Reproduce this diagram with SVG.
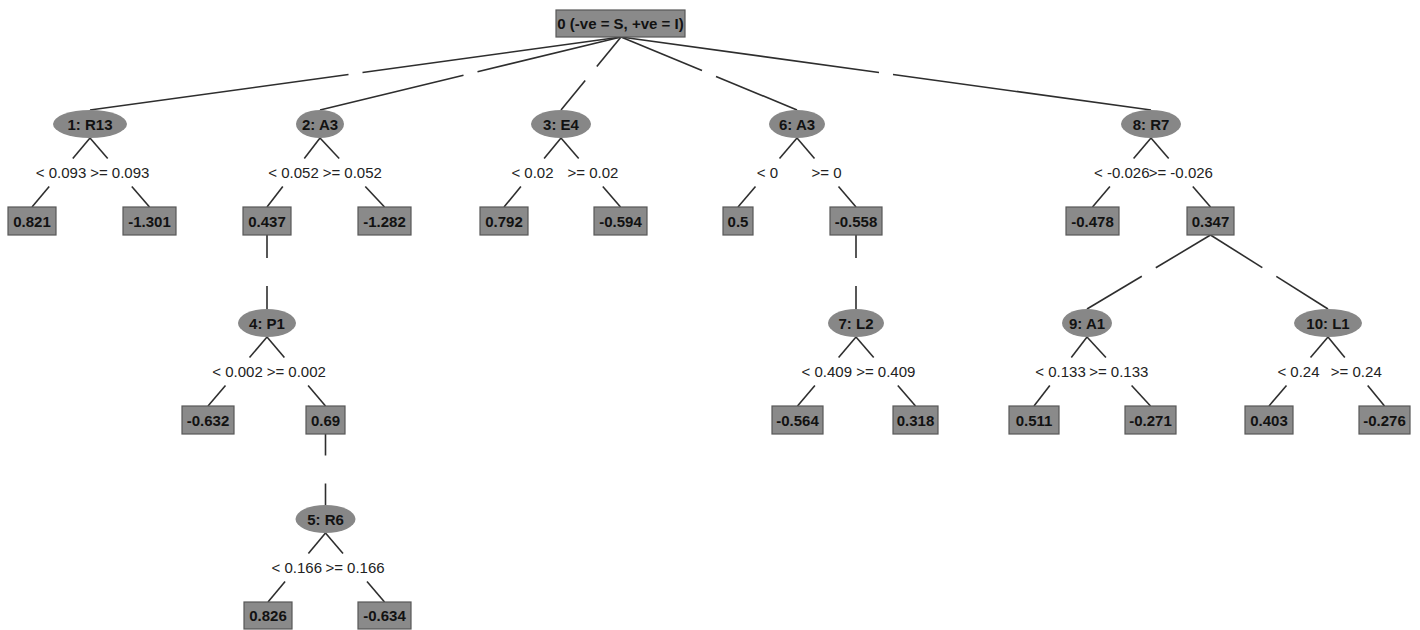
<svg xmlns="http://www.w3.org/2000/svg" width="1420" height="630" viewBox="0 0 1420 630">
<style>
.bg{fill:#ffffff}
.box{fill:#8a8a8a;stroke:#585858;stroke-width:1.2}
.ell{fill:#878787;stroke:none}
.nt{font-family:"Liberation Sans",Arial,sans-serif;font-size:15px;font-weight:bold;fill:#121212;text-anchor:middle}
.lt{font-family:"Liberation Sans",Arial,sans-serif;font-size:15px;fill:#222222;text-anchor:middle}
.e{stroke:#2e2e2e;stroke-width:1.6;fill:none}
</style>
<rect class="bg" x="0" y="0" width="1420" height="630"/>
<g id="connectors">
<!-- root edges -->
<polyline class="e" points="621,37 362.5,72.5"/><polyline class="e" points="348.5,74.5 90,110"/>
<polyline class="e" points="621,37 477.5,71.8"/><polyline class="e" points="463.5,75.2 320,110"/>
<polyline class="e" points="621,37 596.8,66.5"/><polyline class="e" points="585.2,80.5 561,110"/>
<polyline class="e" points="621,37 702,70.6"/><polyline class="e" points="716,76.4 797,110"/>
<polyline class="e" points="621,37 879,72.5"/><polyline class="e" points="893,74.5 1151,110"/>
<!-- level 1 splits -->
<polyline class="e" points="90,138 72.8,158.5"/><polyline class="e" points="49.2,186.5 32,207"/>
<polyline class="e" points="90,138 107.7,158.5"/><polyline class="e" points="131.8,186.5 149.5,207"/>
<polyline class="e" points="320,138 304.3,158.5"/><polyline class="e" points="282.8,186.5 267,207"/>
<polyline class="e" points="320,138 339.2,158.5"/><polyline class="e" points="365.3,186.5 384.5,207"/>
<polyline class="e" points="561,138 544.1,158.5"/><polyline class="e" points="520.9,186.5 504,207"/>
<polyline class="e" points="561,138 578.7,158.5"/><polyline class="e" points="602.8,186.5 620.5,207"/>
<polyline class="e" points="797,138 779.5,158.5"/><polyline class="e" points="755.5,186.5 738,207"/>
<polyline class="e" points="797,138 814.5,158.5"/><polyline class="e" points="838.5,186.5 856,207"/>
<polyline class="e" points="1151,138 1133.6,158.5"/><polyline class="e" points="1109.9,186.5 1092.5,207"/>
<polyline class="e" points="1151,138 1168.7,158.5"/><polyline class="e" points="1192.8,186.5 1210.5,207"/>
<!-- level 2 to level 3 -->
<polyline class="e" points="267,235 267,258"/><polyline class="e" points="267,286 267,309"/>
<polyline class="e" points="856,235 856,258"/><polyline class="e" points="856,286 856,309"/>
<polyline class="e" points="1210.5,235 1155.8,267.8"/><polyline class="e" points="1141.8,276.2 1087,309"/>
<polyline class="e" points="1210.5,235 1262.3,267.6"/><polyline class="e" points="1276.3,276.4 1328,309"/>
<!-- level 3 splits -->
<polyline class="e" points="267,337 249.5,357.5"/><polyline class="e" points="225.5,385.5 208,406"/>
<polyline class="e" points="267,337 284.4,357.5"/><polyline class="e" points="308.1,385.5 325.5,406"/>
<polyline class="e" points="856,337 838.6,357.5"/><polyline class="e" points="814.9,385.5 797.5,406"/>
<polyline class="e" points="856,337 873.7,357.5"/><polyline class="e" points="897.8,385.5 915.5,406"/>
<polyline class="e" points="1087,337 1071.3,357.5"/><polyline class="e" points="1049.8,385.5 1034,406"/>
<polyline class="e" points="1087,337 1105.9,357.5"/><polyline class="e" points="1131.6,385.5 1150.5,406"/>
<polyline class="e" points="1328,337 1310.5,357.5"/><polyline class="e" points="1286.5,385.5 1269,406"/>
<polyline class="e" points="1328,337 1344.8,357.5"/><polyline class="e" points="1367.7,385.5 1384.5,406"/>
<!-- 0.69 to 5:R6 -->
<polyline class="e" points="325.5,434 325.5,455.5"/><polyline class="e" points="325.5,483.5 325.5,505"/>
<!-- level 5 splits -->
<polyline class="e" points="325.5,533 308.4,553.5"/><polyline class="e" points="285.1,581.5 268,602"/>
<polyline class="e" points="325.5,533 343,553.5"/><polyline class="e" points="367,581.5 384.5,602"/>
<!-- labels -->
<text class="lt" x="61" y="178">&lt; 0.093</text>
<text class="lt" x="119.8" y="178">&gt;= 0.093</text>
<text class="lt" x="293.5" y="178">&lt; 0.052</text>
<text class="lt" x="352.3" y="178">&gt;= 0.052</text>
<text class="lt" x="532.5" y="178">&lt; 0.02</text>
<text class="lt" x="593" y="178">&gt;= 0.02</text>
<text class="lt" x="767.5" y="178">&lt; 0</text>
<text class="lt" x="826.5" y="178">&gt;= 0</text>
<text class="lt" x="1121.8" y="178">&lt; -0.026</text>
<text class="lt" x="1180.8" y="178">&gt;= -0.026</text>
<text class="lt" x="237.5" y="377">&lt; 0.002</text>
<text class="lt" x="296.3" y="377">&gt;= 0.002</text>
<text class="lt" x="826.8" y="377">&lt; 0.409</text>
<text class="lt" x="885.8" y="377">&gt;= 0.409</text>
<text class="lt" x="1060.5" y="377">&lt; 0.133</text>
<text class="lt" x="1118.8" y="377">&gt;= 0.133</text>
<text class="lt" x="1298.5" y="377">&lt; 0.24</text>
<text class="lt" x="1356.3" y="377">&gt;= 0.24</text>
<text class="lt" x="296.8" y="573">&lt; 0.166</text>
<text class="lt" x="355" y="573">&gt;= 0.166</text>
</g>
<g id="node0"><rect class="box" x="556" y="10" width="129" height="27"/><text class="nt" x="620.5" y="29">0 (-ve = S, +ve = I)</text></g>
<g id="node1"><ellipse class="ell" cx="90" cy="124" rx="37" ry="14"/><text class="nt" x="90" y="129.5">1: R13</text></g>
<g id="node2"><ellipse class="ell" cx="320" cy="124" rx="24" ry="14"/><text class="nt" x="320" y="129.5">2: A3</text></g>
<g id="node3"><ellipse class="ell" cx="561" cy="124" rx="30" ry="14"/><text class="nt" x="561" y="129.5">3: E4</text></g>
<g id="node6"><ellipse class="ell" cx="797" cy="124" rx="28" ry="14"/><text class="nt" x="797" y="129.5">6: A3</text></g>
<g id="node8"><ellipse class="ell" cx="1151" cy="124" rx="30" ry="14"/><text class="nt" x="1151" y="129.5">8: R7</text></g>
<g id="node4"><ellipse class="ell" cx="267" cy="323" rx="29" ry="14"/><text class="nt" x="267" y="328.5">4: P1</text></g>
<g id="node7"><ellipse class="ell" cx="856" cy="323" rx="28" ry="14"/><text class="nt" x="856" y="328.5">7: L2</text></g>
<g id="node9"><ellipse class="ell" cx="1087" cy="323" rx="25" ry="14"/><text class="nt" x="1087" y="328.5">9: A1</text></g>
<g id="node10"><ellipse class="ell" cx="1328" cy="323" rx="34" ry="14"/><text class="nt" x="1328" y="328.5">10: L1</text></g>
<g id="node5"><ellipse class="ell" cx="325.5" cy="519" rx="30" ry="14"/><text class="nt" x="325.5" y="524.5">5: R6</text></g>
<g id="leaf_0821"><rect class="box" x="8" y="207" width="48" height="28"/><text class="nt" x="32" y="226.5">0.821</text></g>
<g id="leaf_m1301"><rect class="box" x="123" y="207" width="53" height="28"/><text class="nt" x="149.5" y="226.5">-1.301</text></g>
<g id="leaf_0437"><rect class="box" x="243" y="207" width="48" height="28"/><text class="nt" x="267" y="226.5">0.437</text></g>
<g id="leaf_m1282"><rect class="box" x="358" y="207" width="53" height="28"/><text class="nt" x="384.5" y="226.5">-1.282</text></g>
<g id="leaf_0792"><rect class="box" x="480" y="207" width="48" height="28"/><text class="nt" x="504" y="226.5">0.792</text></g>
<g id="leaf_m0594"><rect class="box" x="594" y="207" width="53" height="28"/><text class="nt" x="620.5" y="226.5">-0.594</text></g>
<g id="leaf_05"><rect class="box" x="723" y="207" width="30" height="28"/><text class="nt" x="738" y="226.5">0.5</text></g>
<g id="leaf_m0558"><rect class="box" x="830" y="207" width="52" height="28"/><text class="nt" x="856" y="226.5">-0.558</text></g>
<g id="leaf_m0478"><rect class="box" x="1066" y="207" width="53" height="28"/><text class="nt" x="1092.5" y="226.5">-0.478</text></g>
<g id="leaf_0347"><rect class="box" x="1187" y="207" width="47" height="28"/><text class="nt" x="1210.5" y="226.5">0.347</text></g>
<g id="leaf_m0632"><rect class="box" x="182" y="406" width="52" height="28"/><text class="nt" x="208" y="425.5">-0.632</text></g>
<g id="leaf_069"><rect class="box" x="306" y="406" width="39" height="28"/><text class="nt" x="325.5" y="425.5">0.69</text></g>
<g id="leaf_m0564"><rect class="box" x="772" y="406" width="51" height="28"/><text class="nt" x="797.5" y="425.5">-0.564</text></g>
<g id="leaf_0318"><rect class="box" x="893" y="406" width="45" height="28"/><text class="nt" x="915.5" y="425.5">0.318</text></g>
<g id="leaf_0511"><rect class="box" x="1009" y="406" width="50" height="28"/><text class="nt" x="1034" y="425.5">0.511</text></g>
<g id="leaf_m0271"><rect class="box" x="1125" y="406" width="51" height="28"/><text class="nt" x="1150.5" y="425.5">-0.271</text></g>
<g id="leaf_0403"><rect class="box" x="1245" y="406" width="48" height="28"/><text class="nt" x="1269" y="425.5">0.403</text></g>
<g id="leaf_m0276"><rect class="box" x="1359" y="406" width="51" height="28"/><text class="nt" x="1384.5" y="425.5">-0.276</text></g>
<g id="leaf_0826"><rect class="box" x="244" y="602" width="48" height="27"/><text class="nt" x="268" y="621">0.826</text></g>
<g id="leaf_m0634"><rect class="box" x="358" y="602" width="53" height="27"/><text class="nt" x="384.5" y="621">-0.634</text></g>
</svg>
